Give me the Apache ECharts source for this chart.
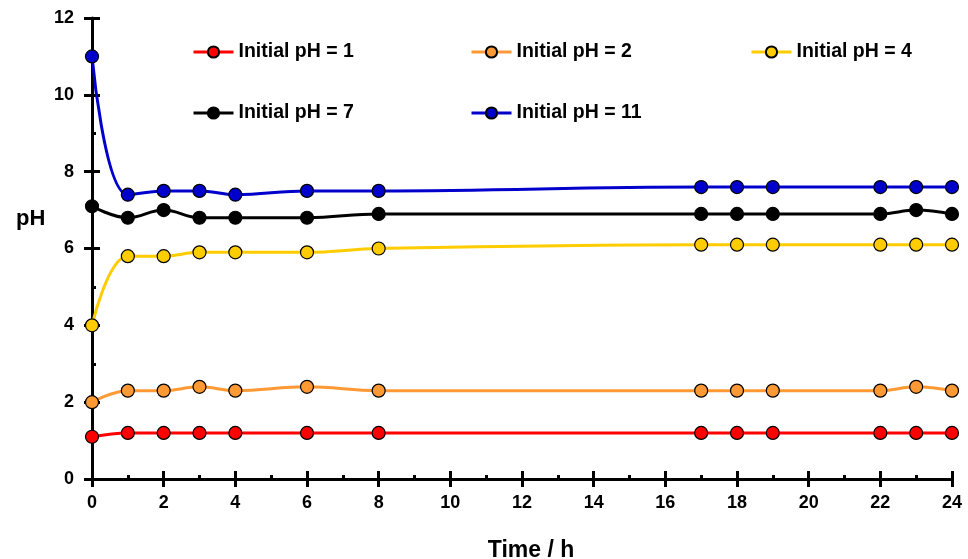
<!DOCTYPE html>
<html>
<head>
<meta charset="utf-8">
<script src="https://cdn.jsdelivr.net/npm/echarts@6/dist/echarts.min.js"></script>
<style>
  html, body { margin: 0; padding: 0; background: #fff; }
  #chart { width: 968px; height: 559px; }
</style>
</head>
<body>
<div id="chart"></div>
<script>
// Sampling times (h)
const times = [0, 1, 2, 3, 4, 6, 8, 17, 18, 19, 22, 23, 24];

// Measured pH for each starting pH
const ph1  = [1.1, 1.2, 1.2, 1.2, 1.2, 1.2, 1.2, 1.2, 1.2, 1.2, 1.2, 1.2, 1.2];
const ph2  = [2.0, 2.3, 2.3, 2.4, 2.3, 2.4, 2.3, 2.3, 2.3, 2.3, 2.3, 2.4, 2.3];
const ph4  = [4.0, 5.8, 5.8, 5.9, 5.9, 5.9, 6.0, 6.1, 6.1, 6.1, 6.1, 6.1, 6.1];
const ph7  = [7.1, 6.8, 7.0, 6.8, 6.8, 6.8, 6.9, 6.9, 6.9, 6.9, 6.9, 7.0, 6.9];
const ph11 = [11.0, 7.4, 7.5, 7.5, 7.4, 7.5, 7.5, 7.6, 7.6, 7.6, 7.6, 7.6, 7.6];

const seriesNames = ['Initial pH = 1', 'Initial pH = 2', 'Initial pH = 4', 'Initial pH = 7', 'Initial pH = 11'];
const seriesValues = [ph1, ph2, ph4, ph7, ph11];
const seriesColors = ['#FF0000', '#FF9933', '#FFCC00', '#000000', '#0000CC'];

const FONT = '"Liberation Sans", Arial, sans-serif';

const chart = echarts.init(document.getElementById('chart'), null, { renderer: 'canvas' });

// Legend slots: [left, top]
const legendSlots = [[192, 42], [470, 42], [750, 42], [192, 103], [470, 103]];

const legends = seriesNames.map((name, i) => ({
  data: [name],
  left: legendSlots[i][0],
  top: legendSlots[i][1],
  padding: 0,
  itemWidth: 40,
  itemHeight: 14,
  itemGap: 0,
  lineStyle: { width: 3 },
  textStyle: { fontFamily: FONT, fontWeight: 'bold', fontSize: 19.5, color: '#000' }
}));

const axisLabelStyle = { fontFamily: FONT, fontWeight: 'bold', fontSize: 18, color: '#000' };

const series = seriesNames.map((name, i) => ({
  name: name,
  type: 'line',
  smooth: 0.4,
  data: times.map((t, j) => [t, seriesValues[i][j]]),
  symbol: 'circle',
  symbolSize: 13,
  showSymbol: true,
  z: 2 + i,
  lineStyle: { color: seriesColors[i], width: 3 },
  itemStyle: { color: seriesColors[i], borderColor: '#000', borderWidth: 1.2 },
  emphasis: { disabled: true },
  animation: false
}));

const option = {
  animation: false,
  backgroundColor: '#fff',
  legend: legends,
  grid: { left: 92, right: 16, top: 18, bottom: 80, containLabel: false, outerBoundsMode: 'none' },
  xAxis: [
    {
      type: 'value', min: 0, max: 24, interval: 2,
      name: 'Time / h', nameLocation: 'middle', nameGap: 60,
      nameTextStyle: { fontFamily: FONT, fontWeight: 'bold', fontSize: 23, color: '#000', padding: [0, 0, 0, 18] },
      axisLine: { show: true, onZero: false, lineStyle: { color: '#000', width: 3 } },
      axisTick: { show: true, inside: false, length: 8, lineStyle: { color: '#000', width: 3 } },
      axisLabel: Object.assign({ margin: 15 }, axisLabelStyle),
      splitLine: { show: false }
    },
    {
      type: 'value', min: 0, max: 24, interval: 2, position: 'bottom',
      axisLine: { show: false },
      axisTick: { show: true, inside: true, length: 8, lineStyle: { color: '#000', width: 3 } },
      minorTick: { show: true, splitNumber: 2, length: 4, lineStyle: { color: '#000', width: 3 } },
      axisLabel: { show: false },
      splitLine: { show: false }
    }
  ],
  yAxis: [
    {
      type: 'value', min: 0, max: 12, interval: 2,
      axisLine: { show: true, onZero: false, lineStyle: { color: '#000', width: 3 } },
      axisTick: { show: true, inside: false, length: 8, lineStyle: { color: '#000', width: 3 } },
      axisLabel: Object.assign({ margin: 18 }, axisLabelStyle),
      splitLine: { show: false }
    },
    {
      type: 'value', min: 0, max: 12, interval: 2, position: 'left',
      axisLine: { show: false },
      axisTick: { show: true, inside: true, length: 8, lineStyle: { color: '#000', width: 3 } },
      minorTick: { show: true, splitNumber: 2, length: 4, lineStyle: { color: '#000', width: 3 } },
      axisLabel: { show: false },
      splitLine: { show: false }
    }
  ],
  graphic: [
    {
      type: 'text', left: 16, top: 208,
      style: { text: 'pH', fontFamily: FONT, fontWeight: 'bold', fontSize: 22, fill: '#000' }
    }
  ],
  series: series
};

chart.setOption(option);
</script>
</body>
</html>
